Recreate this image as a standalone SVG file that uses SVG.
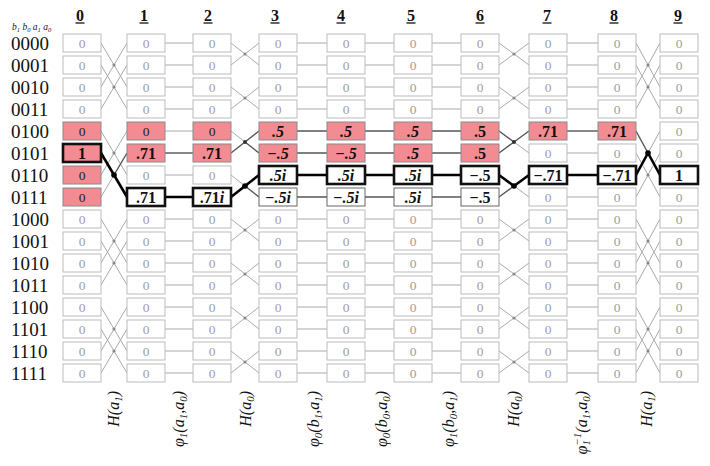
<svg xmlns="http://www.w3.org/2000/svg" xmlns:xlink="http://www.w3.org/1999/xlink" width="710" height="466" viewBox="0 0 710 466">
<style>
text{font-family:"Liberation Serif","Times New Roman",serif}
.bz{fill:#fff;stroke:#bbb;stroke-width:1}
.bp{fill:#f38b92;stroke:#8a8a8a;stroke-width:1}
.bw{fill:#fff;stroke:#666;stroke-width:1}
.hl{stroke:#111;stroke-width:2.6}
.tz{font-size:13.5px;fill:#a0a0a0;text-anchor:middle}
.tp{font-size:13.5px;fill:#222;text-anchor:middle}
.tv{font-size:16px;font-weight:bold;fill:#111;text-anchor:middle}
.it{font-style:italic}
.hd{font-size:16px;font-weight:bold;fill:#111;text-anchor:middle}
.ul{stroke:#111;stroke-width:1.3}
.rl{font-size:19px;fill:#111}
.gl{font-size:16px;font-style:italic;fill:#111;text-anchor:end}
.sb{font-size:11px}
.ss{font-size:6.5px}
.cz{stroke:#aaa;stroke-width:1;fill:none}
.cn{stroke:#555;stroke-width:1.4;fill:none;stroke-linejoin:round}
.ch{stroke:#000;stroke-width:2.6;fill:none;stroke-linecap:round;stroke-linejoin:round}
.dz{fill:#888}
.dn{fill:#333}
.dh{fill:#000}
</style>
<defs>
<g id="z"><rect class="bz" width="38" height="18"/><text class="tz" x="19" y="13.7">0</text></g>
</defs>

<g id="headers">
<text class="hd" x="80" y="20.5">0</text><line class="ul" x1="75.5" y1="23" x2="84.5" y2="23"/>
<text class="hd" x="144" y="20.5">1</text><line class="ul" x1="139.5" y1="23" x2="148.5" y2="23"/>
<text class="hd" x="208" y="20.5">2</text><line class="ul" x1="203.5" y1="23" x2="212.5" y2="23"/>
<text class="hd" x="275" y="20.5">3</text><line class="ul" x1="270.5" y1="23" x2="279.5" y2="23"/>
<text class="hd" x="341" y="20.5">4</text><line class="ul" x1="336.5" y1="23" x2="345.5" y2="23"/>
<text class="hd" x="411" y="20.5">5</text><line class="ul" x1="406.5" y1="23" x2="415.5" y2="23"/>
<text class="hd" x="480" y="20.5">6</text><line class="ul" x1="475.5" y1="23" x2="484.5" y2="23"/>
<text class="hd" x="547" y="20.5">7</text><line class="ul" x1="542.5" y1="23" x2="551.5" y2="23"/>
<text class="hd" x="614" y="20.5">8</text><line class="ul" x1="609.5" y1="23" x2="618.5" y2="23"/>
<text class="hd" x="678" y="20.5">9</text><line class="ul" x1="673.5" y1="23" x2="682.5" y2="23"/>
</g>

<g id="row-labels">
<text x="12" y="30" style="font-size:9.5px;font-style:italic;fill:#111">b<tspan class="ss" dy="2">1</tspan><tspan dy="-2"> b</tspan><tspan class="ss" dy="2">0</tspan><tspan dy="-2"> a</tspan><tspan class="ss" dy="2">1</tspan><tspan dy="-2"> a</tspan><tspan class="ss" dy="2">0</tspan></text>
<text class="rl" x="11" y="49.5">0000</text>
<text class="rl" x="11" y="71.5">0001</text>
<text class="rl" x="11" y="93.5">0010</text>
<text class="rl" x="11" y="115.5">0011</text>
<text class="rl" x="11" y="137.5">0100</text>
<text class="rl" x="11" y="159.5">0101</text>
<text class="rl" x="11" y="181.5">0110</text>
<text class="rl" x="11" y="203.5">0111</text>
<text class="rl" x="11" y="225.5">1000</text>
<text class="rl" x="11" y="247.5">1001</text>
<text class="rl" x="11" y="269.5">1010</text>
<text class="rl" x="11" y="291.5">1011</text>
<text class="rl" x="11" y="313.5">1100</text>
<text class="rl" x="11" y="335.5">1101</text>
<text class="rl" x="11" y="357.5">1110</text>
<text class="rl" x="11" y="379.5">1111</text>
</g>

<g id="connectors">
<!-- gate 0->1 H(a1) -->
<path class="cz" d="M101 43L127 87M101 87L127 43M101 65L127 109M101 109L127 65M101 131L127 175M101 175L127 131M101 219L127 263M101 263L127 219M101 241L127 285M101 285L127 241M101 307L127 351M101 351L127 307M101 329L127 373M101 373L127 329M101 197L114 175"/>
<path class="cn" d="M114 175L127 153"/>
<path class="ch" d="M101 153L114 175L127 197"/>
<!-- gate 1->2 -->
<path class="cz" d="M165 43H193M165 65H193M165 87H193M165 109H193M165 131H193M165 175H193M165 219H193M165 241H193M165 263H193M165 285H193M165 307H193M165 329H193M165 351H193M165 373H193"/>
<path class="cn" d="M165 153H193"/>
<path class="ch" d="M165 197H193"/>
<!-- gate 2->3 H(a0) -->
<path class="cz" d="M231 43L259 65M231 65L259 43M231 87L259 109M231 109L259 87M231 219L259 241M231 241L259 219M231 263L259 285M231 285L259 263M231 307L259 329M231 329L259 307M231 351L259 373M231 373L259 351M231 131L245 142M231 175L245 186"/>
<path class="cn" d="M231 153L245 142L259 131M245 142L259 153M245 186L259 197"/>
<path class="ch" d="M231 197L245 186L259 175"/>
<!-- gates 3->4, 4->5, 5->6 -->
<path class="cz" d="M297 43H327M297 65H327M297 87H327M297 109H327M297 219H327M297 241H327M297 263H327M297 285H327M297 307H327M297 329H327M297 351H327M297 373H327M365 43H394M365 65H394M365 87H394M365 109H394M365 219H394M365 241H394M365 263H394M365 285H394M365 307H394M365 329H394M365 351H394M365 373H394M432 43H461M432 65H461M432 87H461M432 109H461M432 219H461M432 241H461M432 263H461M432 285H461M432 307H461M432 329H461M432 351H461M432 373H461"/>
<path class="cn" d="M297 131H327M297 153H327M297 197H327M365 131H394M365 153H394M365 197H394M432 131H461M432 153H461M432 197H461"/>
<path class="ch" d="M297 175H327M365 175H394M432 175H461"/>
<!-- gate 6->7 H(a0) -->
<path class="cz" d="M499 43L529 65M499 65L529 43M499 87L529 109M499 109L529 87M499 219L529 241M499 241L529 219M499 263L529 285M499 285L529 263M499 307L529 329M499 329L529 307M499 351L529 373M499 373L529 351M514 142L529 153M514 186L529 197"/>
<path class="cn" d="M499 131L514 142L529 131M499 153L514 142M499 197L514 186"/>
<path class="ch" d="M499 175L514 186L529 175"/>
<!-- gate 7->8 -->
<path class="cz" d="M567 43H598M567 65H598M567 87H598M567 109H598M567 153H598M567 197H598M567 219H598M567 241H598M567 263H598M567 285H598M567 307H598M567 329H598M567 351H598M567 373H598"/>
<path class="cn" d="M567 131H598"/>
<path class="ch" d="M567 175H598"/>
<!-- gate 8->9 H(a1) -->
<path class="cz" d="M636 43L660 87M636 87L660 43M636 65L660 109M636 109L660 65M636 153L660 197M636 197L660 153M636 219L660 263M636 263L660 219M636 241L660 285M636 285L660 241M636 307L660 351M636 351L660 307M636 329L660 373M636 373L660 329M648 153L660 131"/>
<path class="cn" d="M636 131L648 153"/>
<path class="ch" d="M636 175L648 153L660 175"/>
<!-- dots -->
<g class="dz">
<circle cx="114" cy="65" r="1.6"/><circle cx="114" cy="87" r="1.6"/><circle cx="114" cy="153" r="1.6"/><circle cx="114" cy="241" r="1.6"/><circle cx="114" cy="263" r="1.6"/><circle cx="114" cy="329" r="1.6"/><circle cx="114" cy="351" r="1.6"/>
<circle cx="245" cy="54" r="1.6"/><circle cx="245" cy="98" r="1.6"/><circle cx="245" cy="230" r="1.6"/><circle cx="245" cy="274" r="1.6"/><circle cx="245" cy="318" r="1.6"/><circle cx="245" cy="362" r="1.6"/>
<circle cx="514" cy="54" r="1.6"/><circle cx="514" cy="98" r="1.6"/><circle cx="514" cy="230" r="1.6"/><circle cx="514" cy="274" r="1.6"/><circle cx="514" cy="318" r="1.6"/><circle cx="514" cy="362" r="1.6"/>
<circle cx="648" cy="65" r="1.6"/><circle cx="648" cy="87" r="1.6"/><circle cx="648" cy="175" r="1.6"/><circle cx="648" cy="241" r="1.6"/><circle cx="648" cy="263" r="1.6"/><circle cx="648" cy="329" r="1.6"/><circle cx="648" cy="351" r="1.6"/>
</g>
<g class="dn"><circle cx="245" cy="142" r="2"/><circle cx="514" cy="142" r="2"/></g>
<g class="dh"><circle cx="114" cy="175" r="2.8"/><circle cx="245" cy="186" r="2.8"/><circle cx="514" cy="186" r="2.8"/><circle cx="648" cy="153" r="2.8"/></g>
</g>

<g id="nodes">
<!-- column 0 -->
<g id="n0-0"><use xlink:href="#z" x="63" y="34"/></g>
<g id="n0-1"><use xlink:href="#z" x="63" y="56"/></g>
<g id="n0-2"><use xlink:href="#z" x="63" y="78"/></g>
<g id="n0-3"><use xlink:href="#z" x="63" y="100"/></g>
<g id="n0-4"><rect class="bp" x="63" y="122" width="38" height="18"/><text class="tp" x="82" y="135.7">0</text></g>
<g id="n0-5"><rect class="bp hl" x="63" y="144" width="38" height="18"/><text class="tv" x="82" y="158.5">1</text></g>
<g id="n0-6"><rect class="bp" x="63" y="166" width="38" height="18"/><text class="tp" x="82" y="179.7">0</text></g>
<g id="n0-7"><rect class="bp" x="63" y="188" width="38" height="18"/><text class="tp" x="82" y="201.7">0</text></g>
<g id="n0-8"><use xlink:href="#z" x="63" y="210"/></g>
<g id="n0-9"><use xlink:href="#z" x="63" y="232"/></g>
<g id="n0-10"><use xlink:href="#z" x="63" y="254"/></g>
<g id="n0-11"><use xlink:href="#z" x="63" y="276"/></g>
<g id="n0-12"><use xlink:href="#z" x="63" y="298"/></g>
<g id="n0-13"><use xlink:href="#z" x="63" y="320"/></g>
<g id="n0-14"><use xlink:href="#z" x="63" y="342"/></g>
<g id="n0-15"><use xlink:href="#z" x="63" y="364"/></g>
<!-- column 1 -->
<g id="n1-0"><use xlink:href="#z" x="127" y="34"/></g>
<g id="n1-1"><use xlink:href="#z" x="127" y="56"/></g>
<g id="n1-2"><use xlink:href="#z" x="127" y="78"/></g>
<g id="n1-3"><use xlink:href="#z" x="127" y="100"/></g>
<g id="n1-4"><rect class="bp" x="127" y="122" width="38" height="18"/><text class="tp" x="146" y="135.7">0</text></g>
<g id="n1-5"><rect class="bp" x="127" y="144" width="38" height="18"/><text class="tv" x="146" y="158.5">.71</text></g>
<g id="n1-6"><use xlink:href="#z" x="127" y="166"/></g>
<g id="n1-7"><rect class="bw hl" x="127" y="188" width="38" height="18"/><text class="tv" x="146" y="202.5">.71</text></g>
<g id="n1-8"><use xlink:href="#z" x="127" y="210"/></g>
<g id="n1-9"><use xlink:href="#z" x="127" y="232"/></g>
<g id="n1-10"><use xlink:href="#z" x="127" y="254"/></g>
<g id="n1-11"><use xlink:href="#z" x="127" y="276"/></g>
<g id="n1-12"><use xlink:href="#z" x="127" y="298"/></g>
<g id="n1-13"><use xlink:href="#z" x="127" y="320"/></g>
<g id="n1-14"><use xlink:href="#z" x="127" y="342"/></g>
<g id="n1-15"><use xlink:href="#z" x="127" y="364"/></g>
<!-- column 2 -->
<g id="n2-0"><use xlink:href="#z" x="193" y="34"/></g>
<g id="n2-1"><use xlink:href="#z" x="193" y="56"/></g>
<g id="n2-2"><use xlink:href="#z" x="193" y="78"/></g>
<g id="n2-3"><use xlink:href="#z" x="193" y="100"/></g>
<g id="n2-4"><rect class="bp" x="193" y="122" width="38" height="18"/><text class="tp" x="212" y="135.7">0</text></g>
<g id="n2-5"><rect class="bp" x="193" y="144" width="38" height="18"/><text class="tv" x="212" y="158.5">.71</text></g>
<g id="n2-6"><use xlink:href="#z" x="193" y="166"/></g>
<g id="n2-7"><rect class="bw hl" x="193" y="188" width="38" height="18"/><text class="tv" x="212" y="202.5">.71<tspan class="it">i</tspan></text></g>
<g id="n2-8"><use xlink:href="#z" x="193" y="210"/></g>
<g id="n2-9"><use xlink:href="#z" x="193" y="232"/></g>
<g id="n2-10"><use xlink:href="#z" x="193" y="254"/></g>
<g id="n2-11"><use xlink:href="#z" x="193" y="276"/></g>
<g id="n2-12"><use xlink:href="#z" x="193" y="298"/></g>
<g id="n2-13"><use xlink:href="#z" x="193" y="320"/></g>
<g id="n2-14"><use xlink:href="#z" x="193" y="342"/></g>
<g id="n2-15"><use xlink:href="#z" x="193" y="364"/></g>
<!-- column 3 -->
<g id="n3-0"><use xlink:href="#z" x="259" y="34"/></g>
<g id="n3-1"><use xlink:href="#z" x="259" y="56"/></g>
<g id="n3-2"><use xlink:href="#z" x="259" y="78"/></g>
<g id="n3-3"><use xlink:href="#z" x="259" y="100"/></g>
<g id="n3-4"><rect class="bp" x="259" y="122" width="38" height="18"/><text class="tv it" x="278" y="136.5">.5</text></g>
<g id="n3-5"><rect class="bp" x="259" y="144" width="38" height="18"/><text class="tv it" x="278" y="158.5">−.5</text></g>
<g id="n3-6"><rect class="bw hl" x="259" y="166" width="38" height="18"/><text class="tv it" x="278" y="180.5">.5i</text></g>
<g id="n3-7"><rect class="bw" x="259" y="188" width="38" height="18"/><text class="tv it" x="278" y="202.5">−.5i</text></g>
<g id="n3-8"><use xlink:href="#z" x="259" y="210"/></g>
<g id="n3-9"><use xlink:href="#z" x="259" y="232"/></g>
<g id="n3-10"><use xlink:href="#z" x="259" y="254"/></g>
<g id="n3-11"><use xlink:href="#z" x="259" y="276"/></g>
<g id="n3-12"><use xlink:href="#z" x="259" y="298"/></g>
<g id="n3-13"><use xlink:href="#z" x="259" y="320"/></g>
<g id="n3-14"><use xlink:href="#z" x="259" y="342"/></g>
<g id="n3-15"><use xlink:href="#z" x="259" y="364"/></g>
<!-- column 4 -->
<g id="n4-0"><use xlink:href="#z" x="327" y="34"/></g>
<g id="n4-1"><use xlink:href="#z" x="327" y="56"/></g>
<g id="n4-2"><use xlink:href="#z" x="327" y="78"/></g>
<g id="n4-3"><use xlink:href="#z" x="327" y="100"/></g>
<g id="n4-4"><rect class="bp" x="327" y="122" width="38" height="18"/><text class="tv it" x="346" y="136.5">.5</text></g>
<g id="n4-5"><rect class="bp" x="327" y="144" width="38" height="18"/><text class="tv it" x="346" y="158.5">−.5</text></g>
<g id="n4-6"><rect class="bw hl" x="327" y="166" width="38" height="18"/><text class="tv it" x="346" y="180.5">.5i</text></g>
<g id="n4-7"><rect class="bw" x="327" y="188" width="38" height="18"/><text class="tv it" x="346" y="202.5">−.5i</text></g>
<g id="n4-8"><use xlink:href="#z" x="327" y="210"/></g>
<g id="n4-9"><use xlink:href="#z" x="327" y="232"/></g>
<g id="n4-10"><use xlink:href="#z" x="327" y="254"/></g>
<g id="n4-11"><use xlink:href="#z" x="327" y="276"/></g>
<g id="n4-12"><use xlink:href="#z" x="327" y="298"/></g>
<g id="n4-13"><use xlink:href="#z" x="327" y="320"/></g>
<g id="n4-14"><use xlink:href="#z" x="327" y="342"/></g>
<g id="n4-15"><use xlink:href="#z" x="327" y="364"/></g>
<!-- column 5 -->
<g id="n5-0"><use xlink:href="#z" x="394" y="34"/></g>
<g id="n5-1"><use xlink:href="#z" x="394" y="56"/></g>
<g id="n5-2"><use xlink:href="#z" x="394" y="78"/></g>
<g id="n5-3"><use xlink:href="#z" x="394" y="100"/></g>
<g id="n5-4"><rect class="bp" x="394" y="122" width="38" height="18"/><text class="tv it" x="413" y="136.5">.5</text></g>
<g id="n5-5"><rect class="bp" x="394" y="144" width="38" height="18"/><text class="tv it" x="413" y="158.5">.5</text></g>
<g id="n5-6"><rect class="bw hl" x="394" y="166" width="38" height="18"/><text class="tv it" x="413" y="180.5">.5i</text></g>
<g id="n5-7"><rect class="bw" x="394" y="188" width="38" height="18"/><text class="tv it" x="413" y="202.5">.5i</text></g>
<g id="n5-8"><use xlink:href="#z" x="394" y="210"/></g>
<g id="n5-9"><use xlink:href="#z" x="394" y="232"/></g>
<g id="n5-10"><use xlink:href="#z" x="394" y="254"/></g>
<g id="n5-11"><use xlink:href="#z" x="394" y="276"/></g>
<g id="n5-12"><use xlink:href="#z" x="394" y="298"/></g>
<g id="n5-13"><use xlink:href="#z" x="394" y="320"/></g>
<g id="n5-14"><use xlink:href="#z" x="394" y="342"/></g>
<g id="n5-15"><use xlink:href="#z" x="394" y="364"/></g>
<!-- column 6 -->
<g id="n6-0"><use xlink:href="#z" x="461" y="34"/></g>
<g id="n6-1"><use xlink:href="#z" x="461" y="56"/></g>
<g id="n6-2"><use xlink:href="#z" x="461" y="78"/></g>
<g id="n6-3"><use xlink:href="#z" x="461" y="100"/></g>
<g id="n6-4"><rect class="bp" x="461" y="122" width="38" height="18"/><text class="tv" x="480" y="136.5">.5</text></g>
<g id="n6-5"><rect class="bp" x="461" y="144" width="38" height="18"/><text class="tv" x="480" y="158.5">.5</text></g>
<g id="n6-6"><rect class="bw hl" x="461" y="166" width="38" height="18"/><text class="tv" x="480" y="180.5">−.5</text></g>
<g id="n6-7"><rect class="bw" x="461" y="188" width="38" height="18"/><text class="tv" x="480" y="202.5">−.5</text></g>
<g id="n6-8"><use xlink:href="#z" x="461" y="210"/></g>
<g id="n6-9"><use xlink:href="#z" x="461" y="232"/></g>
<g id="n6-10"><use xlink:href="#z" x="461" y="254"/></g>
<g id="n6-11"><use xlink:href="#z" x="461" y="276"/></g>
<g id="n6-12"><use xlink:href="#z" x="461" y="298"/></g>
<g id="n6-13"><use xlink:href="#z" x="461" y="320"/></g>
<g id="n6-14"><use xlink:href="#z" x="461" y="342"/></g>
<g id="n6-15"><use xlink:href="#z" x="461" y="364"/></g>
<!-- column 7 -->
<g id="n7-0"><use xlink:href="#z" x="529" y="34"/></g>
<g id="n7-1"><use xlink:href="#z" x="529" y="56"/></g>
<g id="n7-2"><use xlink:href="#z" x="529" y="78"/></g>
<g id="n7-3"><use xlink:href="#z" x="529" y="100"/></g>
<g id="n7-4"><rect class="bp" x="529" y="122" width="38" height="18"/><text class="tv" x="548" y="136.5">.71</text></g>
<g id="n7-5"><use xlink:href="#z" x="529" y="144"/></g>
<g id="n7-6"><rect class="bw hl" x="529" y="166" width="38" height="18"/><text class="tv" x="548" y="180.5">−.71</text></g>
<g id="n7-7"><use xlink:href="#z" x="529" y="188"/></g>
<g id="n7-8"><use xlink:href="#z" x="529" y="210"/></g>
<g id="n7-9"><use xlink:href="#z" x="529" y="232"/></g>
<g id="n7-10"><use xlink:href="#z" x="529" y="254"/></g>
<g id="n7-11"><use xlink:href="#z" x="529" y="276"/></g>
<g id="n7-12"><use xlink:href="#z" x="529" y="298"/></g>
<g id="n7-13"><use xlink:href="#z" x="529" y="320"/></g>
<g id="n7-14"><use xlink:href="#z" x="529" y="342"/></g>
<g id="n7-15"><use xlink:href="#z" x="529" y="364"/></g>
<!-- column 8 -->
<g id="n8-0"><use xlink:href="#z" x="598" y="34"/></g>
<g id="n8-1"><use xlink:href="#z" x="598" y="56"/></g>
<g id="n8-2"><use xlink:href="#z" x="598" y="78"/></g>
<g id="n8-3"><use xlink:href="#z" x="598" y="100"/></g>
<g id="n8-4"><rect class="bp" x="598" y="122" width="38" height="18"/><text class="tv" x="617" y="136.5">.71</text></g>
<g id="n8-5"><use xlink:href="#z" x="598" y="144"/></g>
<g id="n8-6"><rect class="bw hl" x="598" y="166" width="38" height="18"/><text class="tv" x="617" y="180.5">−.71</text></g>
<g id="n8-7"><use xlink:href="#z" x="598" y="188"/></g>
<g id="n8-8"><use xlink:href="#z" x="598" y="210"/></g>
<g id="n8-9"><use xlink:href="#z" x="598" y="232"/></g>
<g id="n8-10"><use xlink:href="#z" x="598" y="254"/></g>
<g id="n8-11"><use xlink:href="#z" x="598" y="276"/></g>
<g id="n8-12"><use xlink:href="#z" x="598" y="298"/></g>
<g id="n8-13"><use xlink:href="#z" x="598" y="320"/></g>
<g id="n8-14"><use xlink:href="#z" x="598" y="342"/></g>
<g id="n8-15"><use xlink:href="#z" x="598" y="364"/></g>
<!-- column 9 -->
<g id="n9-0"><use xlink:href="#z" x="660" y="34"/></g>
<g id="n9-1"><use xlink:href="#z" x="660" y="56"/></g>
<g id="n9-2"><use xlink:href="#z" x="660" y="78"/></g>
<g id="n9-3"><use xlink:href="#z" x="660" y="100"/></g>
<g id="n9-4"><use xlink:href="#z" x="660" y="122"/></g>
<g id="n9-5"><use xlink:href="#z" x="660" y="144"/></g>
<g id="n9-6"><rect class="bw hl" x="660" y="166" width="38" height="18"/><text class="tv" x="679" y="180.5">1</text></g>
<g id="n9-7"><use xlink:href="#z" x="660" y="188"/></g>
<g id="n9-8"><use xlink:href="#z" x="660" y="210"/></g>
<g id="n9-9"><use xlink:href="#z" x="660" y="232"/></g>
<g id="n9-10"><use xlink:href="#z" x="660" y="254"/></g>
<g id="n9-11"><use xlink:href="#z" x="660" y="276"/></g>
<g id="n9-12"><use xlink:href="#z" x="660" y="298"/></g>
<g id="n9-13"><use xlink:href="#z" x="660" y="320"/></g>
<g id="n9-14"><use xlink:href="#z" x="660" y="342"/></g>
<g id="n9-15"><use xlink:href="#z" x="660" y="364"/></g>
</g>

<g id="gate-labels">
<text class="gl" transform="translate(119,391) rotate(-90)">H(a<tspan class="sb" dy="3">1</tspan><tspan dy="-3">)</tspan></text>
<text class="gl" transform="translate(184,391) rotate(-90)">φ<tspan class="sb" dy="3">1</tspan><tspan dy="-3">(a</tspan><tspan class="sb" dy="3">1</tspan><tspan dy="-3">,a</tspan><tspan class="sb" dy="3">0</tspan><tspan dy="-3">)</tspan></text>
<text class="gl" transform="translate(251,391) rotate(-90)">H(a<tspan class="sb" dy="3">0</tspan><tspan dy="-3">)</tspan></text>
<text class="gl" transform="translate(319,391) rotate(-90)">φ<tspan class="sb" dy="3">0</tspan><tspan dy="-3">(b</tspan><tspan class="sb" dy="3">1</tspan><tspan dy="-3">,a</tspan><tspan class="sb" dy="3">1</tspan><tspan dy="-3">)</tspan></text>
<text class="gl" transform="translate(387,391) rotate(-90)">φ<tspan class="sb" dy="3">0</tspan><tspan dy="-3">(b</tspan><tspan class="sb" dy="3">0</tspan><tspan dy="-3">,a</tspan><tspan class="sb" dy="3">0</tspan><tspan dy="-3">)</tspan></text>
<text class="gl" transform="translate(454,391) rotate(-90)">φ<tspan class="sb" dy="3">1</tspan><tspan dy="-3">(b</tspan><tspan class="sb" dy="3">0</tspan><tspan dy="-3">,a</tspan><tspan class="sb" dy="3">1</tspan><tspan dy="-3">)</tspan></text>
<text class="gl" transform="translate(519,391) rotate(-90)">H(a<tspan class="sb" dy="3">0</tspan><tspan dy="-3">)</tspan></text>
<text class="gl" transform="translate(587,391) rotate(-90)">φ<tspan class="sb" dy="3">1</tspan><tspan class="sb" dx="-5.5" dy="-9">−1</tspan><tspan dy="6">(a</tspan><tspan class="sb" dy="3">1</tspan><tspan dy="-3">,a</tspan><tspan class="sb" dy="3">0</tspan><tspan dy="-3">)</tspan></text>
<text class="gl" transform="translate(652,391) rotate(-90)">H(a<tspan class="sb" dy="3">1</tspan><tspan dy="-3">)</tspan></text>
</g>
</svg>
